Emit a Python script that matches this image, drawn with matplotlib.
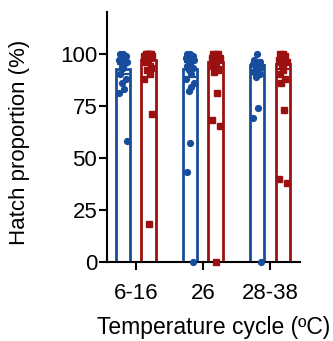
import numpy as np
import matplotlib
matplotlib.use("Agg")
import matplotlib.pyplot as plt

plt.rcParams['font.family'] = ['Liberation Sans', 'DejaVu Sans']

cycles = ["6-16", "26", "28-38"]
blue = "#174d9c"
red = "#9b1111"

blue_means = [92.5, 92.5, 94.5]
red_means = [97.0, 96.0, 95.0]
blue_err = [2.5, 3.5, 2.5]
red_err = [2.0, 2.5, 2.5]

blue_pts = [
    [100, 100, 99, 99, 98, 97, 96, 95, 94, 93, 90, 88, 86, 83, 81, 58],
    [100, 100, 99, 99, 98, 98, 97, 97, 96, 95, 94, 93, 92, 90, 88, 86, 84, 82, 57, 43, 0],
    [100, 97, 96, 96, 95, 95, 94, 93, 93, 92, 91, 90, 89, 74, 69, 0],
]
red_pts = [
    [100, 100, 100, 100, 100, 99, 99, 98, 98, 97, 96, 93, 92, 90, 88, 71, 18],
    [100, 100, 100, 99, 99, 98, 98, 97, 96, 95, 94, 92, 91, 81, 68, 65, 0],
    [100, 100, 99, 99, 98, 97, 96, 95, 94, 92, 90, 88, 86, 73, 40, 38],
]


def jitter(n, spread=0.06):
    # deterministic spread pattern around bar centre
    pat = np.array([0, -1, 1, -0.5, 0.5, -1.5, 1.5, 0.25, -0.25])
    return np.array([pat[i % len(pat)] for i in range(n)]) * spread / 1.5


fig = plt.figure(figsize=(3.33, 3.41), dpi=100)
ax = fig.add_axes([0.321, 0.232, 0.58, 0.733])

x = np.arange(len(cycles))
off = 0.19
w = 0.21
for xs, means, err, pts, col, mk in [(x - off, blue_means, blue_err, blue_pts, blue, 'o'),
                                     (x + off, red_means, red_err, red_pts, red, 's')]:
    ax.bar(xs, means, width=w, facecolor='white', edgecolor=col, linewidth=2.0, zorder=2)
    for xi, vals in zip(xs, pts):
        ax.plot(xi + jitter(len(vals)), vals, linestyle='none', marker=mk, color=col,
                markersize=4.2 if mk == 'o' else 3.8, zorder=4, clip_on=False)
    ax.errorbar(xs, means, yerr=err, fmt='none', ecolor=col, elinewidth=1.5,
                capsize=4, capthick=1.5, zorder=3)

ax.set_xlim(-0.43, 2.45)
ax.set_ylim(0, 120)
ax.set_yticks([0, 25, 50, 75, 100])
ax.set_xticks(x)
ax.set_xticklabels(cycles)
for s in ['top', 'right']:
    ax.spines[s].set_visible(False)
for s in ['left', 'bottom']:
    ax.spines[s].set_linewidth(1.5)
ax.tick_params(width=1.5, length=6, labelsize=16)
ax.tick_params(axis='x', pad=9)
ax.tick_params(axis='y', pad=1)
ax.set_ylabel("Hatch proportion (%)", fontsize=16)
ax.set_xlabel("Temperature cycle (ºC)", fontsize=16.5)
ax.yaxis.set_label_coords(-0.40, 0.48)
ax.xaxis.set_label_coords(0.555, -0.215)

fig.savefig("out.png", dpi=100)
